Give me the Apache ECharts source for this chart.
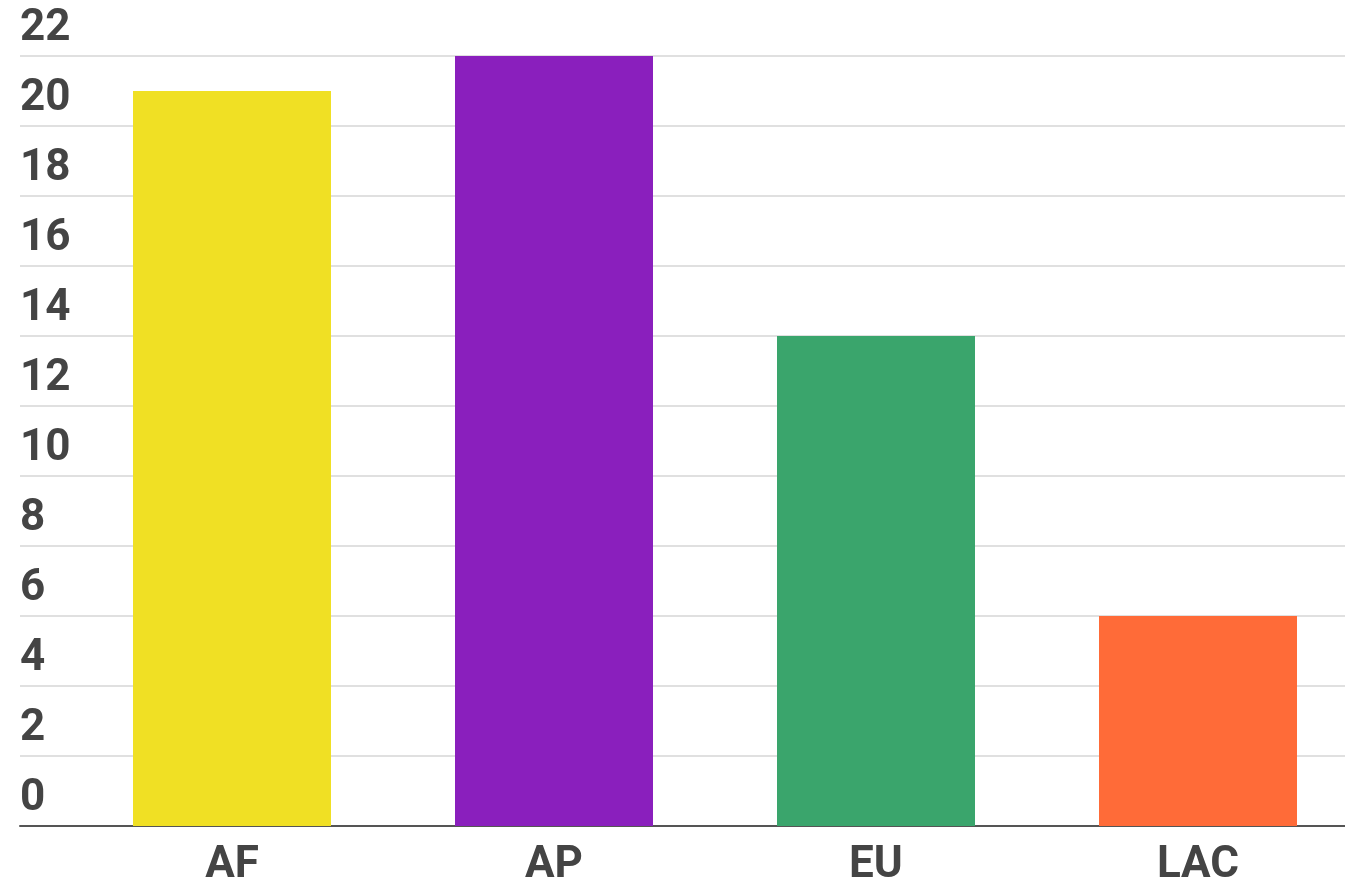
<!DOCTYPE html>
<html>
<head>
<meta charset="utf-8">
<script src="https://cdn.jsdelivr.net/npm/echarts@6/dist/echarts.min.js"></script>
<style>
  html, body { margin: 0; padding: 0; background: #fff; }
  #chart { width: 1345px; height: 883px; }
</style>
</head>
<body>
<div id="chart"></div>
<script>
// regions and values
const regions = ['AF', 'AP', 'EU', 'LAC'];
const counts = [21, 22, 14, 6];
const barColors = ['#f0e024', '#8a1fbd', '#3aa56c', '#ff6b38'];
const yMax = 22;
const yStep = 2;

const chart = echarts.init(document.getElementById('chart'));

const labelFont = {
    fontFamily: 'Roboto',
    fontWeight: 'bold',
    fontSize: 44,
    color: '#444'
};

chart.setOption({
    animation: false,
    grid: [
        // gridlines + value labels, full width
        { left: 20, right: 0, top: 56, bottom: 57, outerBoundsMode: 'none' },
        // bars, category bands are a bit offset from the gridlines
        { left: 71, width: 1288, top: 56, bottom: 57, outerBoundsMode: 'none' }
    ],
    xAxis: [
        {
            gridIndex: 0,
            type: 'value',
            min: 0,
            max: 1,
            axisLine: { show: true, lineStyle: { color: '#555', width: 2 } },
            axisTick: { show: false },
            axisLabel: { show: false },
            splitLine: { show: false }
        },
        {
            gridIndex: 1,
            type: 'category',
            data: regions,
            axisLine: { show: false },
            axisTick: { show: false },
            axisLabel: Object.assign({ margin: 18 }, labelFont),
            z: 5
        }
    ],
    yAxis: [
        {
            gridIndex: 0,
            type: 'value',
            min: 0,
            max: yMax,
            interval: yStep,
            axisLine: { show: false },
            axisTick: { show: false },
            axisLabel: Object.assign({
                inside: true,
                margin: 0,
                align: 'left',
                verticalAlign: 'bottom',
                padding: [0, 0, 5, 0]
            }, labelFont),
            splitLine: { lineStyle: { color: '#e0e0e0', width: 2 } }
        },
        {
            gridIndex: 1,
            type: 'value',
            min: 0,
            max: yMax,
            interval: yStep,
            show: false,
            splitLine: { show: false }
        }
    ],
    series: [{
        type: 'bar',
        xAxisIndex: 1,
        yAxisIndex: 1,
        barWidth: 198,
        data: counts.map((v, i) => ({ value: v, itemStyle: { color: barColors[i] } }))
    }]
});
</script>
</body>
</html>
